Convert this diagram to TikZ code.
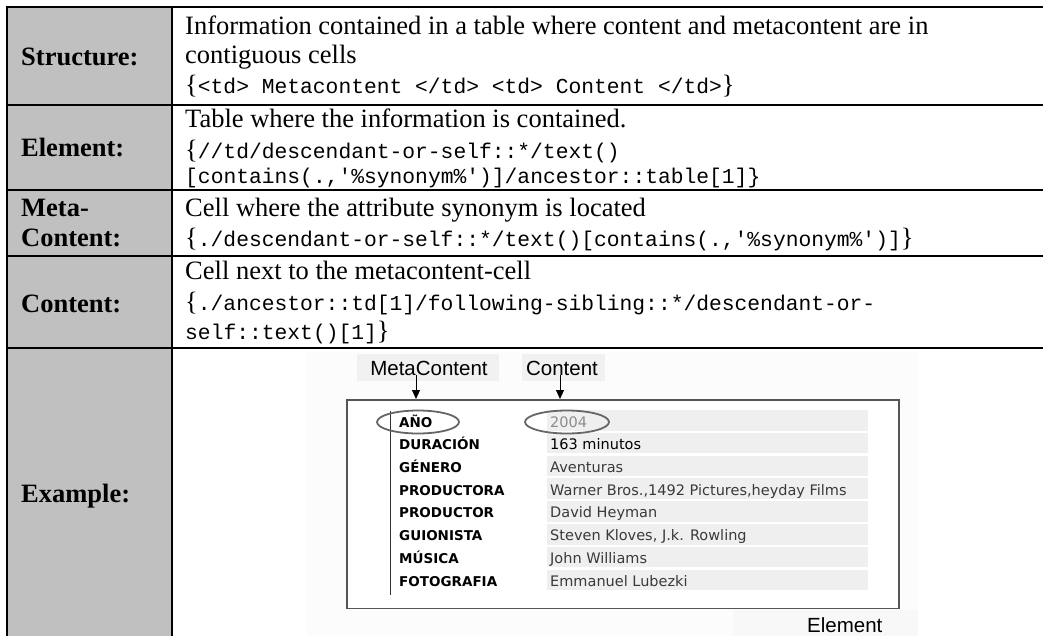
\documentclass[tikz,border=0pt]{standalone}
\usepackage{fontspec}
\setmainfont{Liberation Serif}
\setmonofont{Liberation Mono}
\newfontfamily\shotfont{DejaVu Sans}
\newfontfamily\capfont{Liberation Sans}
\usetikzlibrary{arrows.meta,shapes.geometric}

\newcommand\bodysize{\fontsize{26.5}{30}\selectfont}
\newcommand\codesize{\fontsize{21.3}{24}\selectfont}
\newcommand\code[1]{{\ttfamily\codesize #1}}

\definecolor{labelgrey}{HTML}{C0C0C0}
\definecolor{stripe}{HTML}{EFEFEF}
\definecolor{patch}{HTML}{F1F1F1}
\definecolor{haze}{HTML}{FCFCFC}
\definecolor{framegrey}{HTML}{555555}
\definecolor{valgrey}{HTML}{3A3A3A}

\tikzset{
  rule/.style={line width=2pt},
  lbl/.style={anchor=base west, inner sep=0pt, font=\bodysize\bfseries},
  txt/.style={anchor=base west, inner sep=0pt, font=\bodysize},
  fld/.style={anchor=base west, inner sep=0pt, font=\shotfont\bfseries\fontsize{13.5}{16}\selectfont},
  val/.style={anchor=base west, inner sep=0pt, text=valgrey, font=\shotfont\fontsize{14.5}{16}\selectfont},
  caption/.style={inner sep=0pt, font=\capfont\fontsize{20.5}{24}\selectfont},
  oval/.style={draw=framegrey!90, line width=1.8pt, ellipse, inner sep=0pt},
  pointer/.style={line width=1pt, -{Triangle[length=9pt,width=8pt]}},
}

\begin{document}
\begin{tikzpicture}[x=1pt, y=-1pt]
\useasboundingbox (0,0) rectangle (1043,635);
\clip (0,0) rectangle (1043,635);

% label column background
\fill[labelgrey] (6.7,7) rectangle (171.5,650);

% table rules
\draw[rule] (6.7,7) -- (1050,7);
\draw[rule] (6.7,105) -- (1050,105);
\draw[rule] (6.7,190) -- (1050,190);
\draw[rule] (6.7,256) -- (1050,256);
\draw[rule] (6.7,348) -- (1050,348);
\draw[rule] (6.7,6) -- (6.7,650);
\draw[rule] (171.5,6) -- (171.5,650);

% Structure
\node[lbl] (lstruct) at (21,65) {Structure:};
\node[txt] (s1) at (185,34.5) {Information contained in a table where content and metacontent are in};
\node[txt] (s2) at (185,63) {contiguous cells};
\node[txt] (s3) at (185,93) {\{\code{<td> Metacontent </td> <td> Content </td>}\}};

% Element
\node[lbl] (lelem) at (21,156) {Element:};
\node[txt] (e1) at (185,127.5) {Table where the information is contained.};
\node[txt] (e2) at (185,158.5) {\{\code{//td/descendant-or-self::*/text()}};
\node[txt] (e3) at (185,183) {\code{[contains(.,'\%synonym\%')]/ancestor::table[1]\}}};

% Meta-Content
\node[lbl] (lmeta1) at (21,216.5) {Meta-};
\node[lbl] (lmeta2) at (21,246) {Content:};
\node[txt] (m1) at (185,216.5) {Cell where the attribute synonym is located};
\node[txt] (m2) at (185,246) {\{\code{./descendant-or-self::*/text()[contains(.,'\%synonym\%')]}\}};

% Content
\node[lbl] (lcont) at (21,312) {Content:};
\node[txt] (c1) at (185,279.5) {Cell next to the metacontent-cell};
\node[txt] (c2) at (185,310) {\{\code{./ancestor::td[1]/following-sibling::*/descendant-or-}};
\node[txt] (c3) at (185,339.5) {\code{self::text()[1]}\}};

% Example
\node[lbl] (lex) at (21,502) {Example:};

% screenshot: backdrop and caption patches
\fill[haze] (306,352) rectangle (918,640);
\fill[patch] (357,354) rectangle (499,381);
\fill[patch] (522,354) rectangle (605,381);
\fill[patch!50!white] (733,610) rectangle (918,640);
\node[caption] (mc) at (429,368) {MetaContent};
\node[caption] (ct) at (562,368) {Content};
\node[caption, anchor=base west] (el) at (807,632) {Element};

% screenshot: record frame
\node[draw=framegrey, line width=1.6pt, fill=white, minimum width=552pt, minimum height=208.5pt,
      anchor=north west, inner sep=0pt] (frame) at (346,399) {};

% value stripes
\foreach \i in {0,...,7} {
  \fill[stripe] (547,{410+22.8*\i}) rectangle (868,{430.5+22.8*\i});
}

% left guide line
\draw[line width=1.1pt, black!80] (390.5,411) -- (390.5,595);

% field names and values
\node[fld] (f1) at (399,427) {AÑO};
\node[fld] (f2) at (399,449.6) {DURACIÓN};
\node[fld] (f3) at (399,472.3) {GÉNERO};
\node[fld] (f4) at (399,495) {PRODUCTORA};
\node[fld] (f5) at (399,517.7) {PRODUCTOR};
\node[fld] (f6) at (399,540.5) {GUIONISTA};
\node[fld] (f7) at (399,563.2) {MÚSICA};
\node[fld] (f8) at (399,586) {FOTOGRAFIA};

\node[val, text=black!45] (v1) at (550,427) {2004};
\node[val, text=black] (v2) at (550,449.6) {163 minutos};
\node[val] (v3) at (550,472.3) {Aventuras};
\node[val] (v4) at (550,495) {Warner Bros.,1492 Pictures,heyday Films};
\node[val] (v5) at (550,517.7) {David Heyman};
\node[val] (v6) at (550,540.5) {Steven Kloves, J.k. Rowling};
\node[val] (v7) at (550,563.2) {John Williams};
\node[val] (v8) at (550,586) {Emmanuel Lubezki};

% highlighted cells
\node[oval, minimum width=82pt, minimum height=23pt] (o1) at (418,422) {};
\node[oval, minimum width=84pt, minimum height=23pt] (o2) at (567,422) {};

% pointers from captions to the frame
\draw[pointer] (mc.south -| 416,0) -- (416,0 |- frame.north);
\draw[pointer] (ct.south -| 560,0) -- (560,0 |- frame.north);
\end{tikzpicture}
\end{document}
